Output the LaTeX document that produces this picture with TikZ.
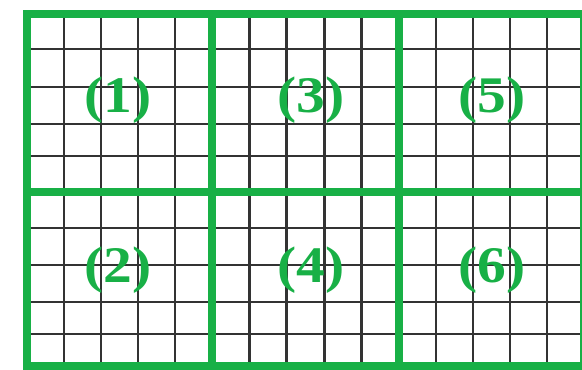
\documentclass[tikz,border=0pt]{standalone}
\usepackage{fontspec}
\setmainfont{Liberation Serif}
\definecolor{gridgreen}{RGB}{24,176,70}
\begin{document}
\begin{tikzpicture}[x=0.75pt,y=-0.75pt,
  thinline/.style={line width=2.1pt,color=black!80},
  thickline/.style={line width=6.6pt,color=gridgreen},
  panellabel/.style={font=\bfseries\fontsize{38.5}{40}\selectfont,text=gridgreen,xscale=1.12,inner sep=0pt}]
\useasboundingbox (0,0) rectangle (582,369);
% thin black grid lines
\foreach \x in {64,101,138,175,249.4,286.8,324.2,361.6,436,473,510,547}
  \draw[thinline] (\x,14) -- (\x,366);
\foreach \y in {49,87,124,156,228,265,302,334}
  \draw[thinline] (27,\y) -- (584,\y);
% thick green lines
\draw[thickline] (27,14) rectangle (584,366);
\draw[thickline] (27,192) -- (584,192);
\draw[thickline] (212,14) -- (212,366);
\draw[thickline] (399,14) -- (399,366);
% labels
\node[panellabel] (l1) at (118,100) {(1)};
\node[panellabel] (l2) at (118,270) {(2)};
\node[panellabel] (l3) at (311,100) {(3)};
\node[panellabel] (l4) at (311,270) {(4)};
\node[panellabel] (l5) at (492,100) {(5)};
\node[panellabel] (l6) at (492,270) {(6)};
\end{tikzpicture}
\end{document}
